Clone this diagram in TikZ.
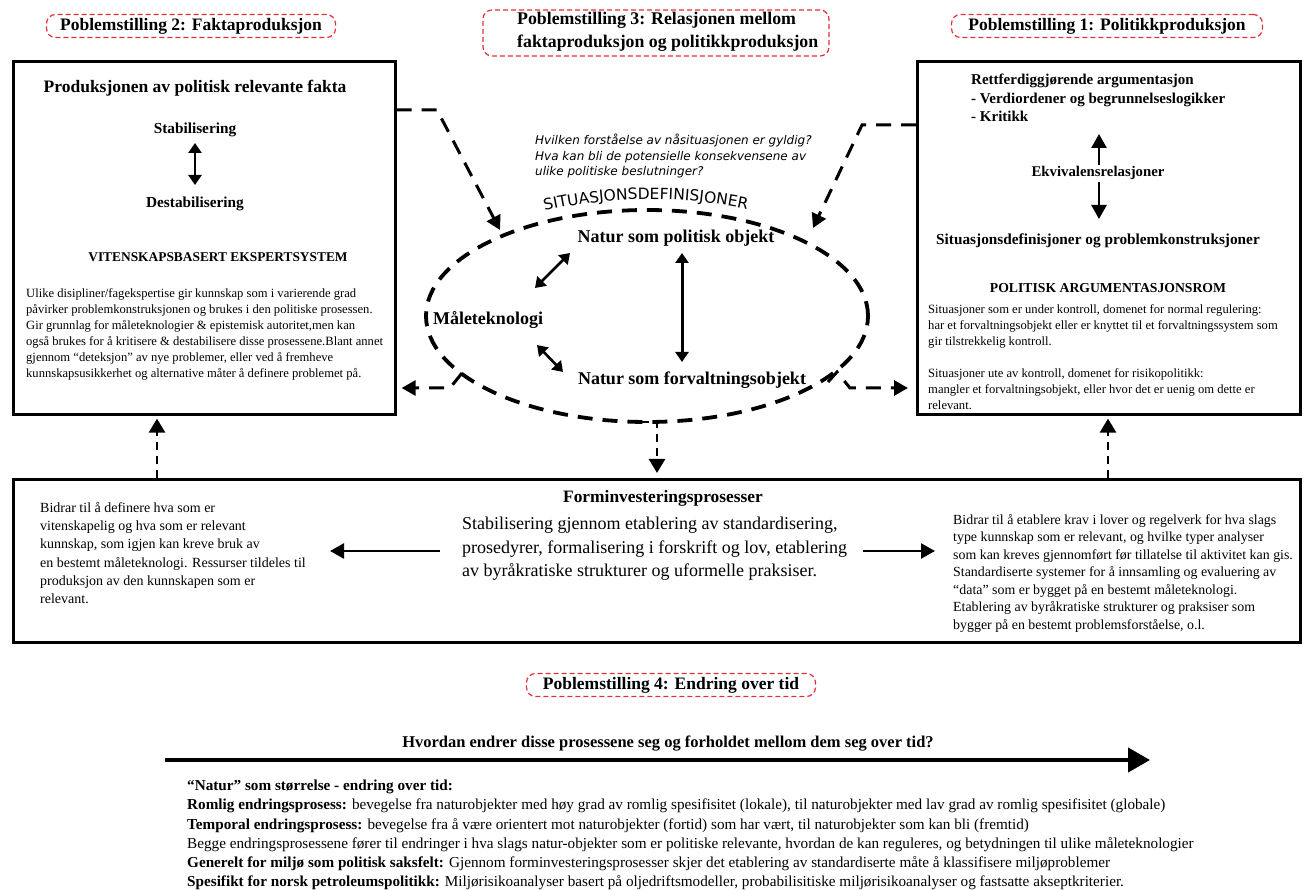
\documentclass[tikz,border=0pt]{standalone}
\usepackage{fontspec}
\setmainfont{Liberation Serif}
\newfontfamily\spfont{DejaVu Sans}
\usetikzlibrary{arrows.meta,calc,positioning,shapes.geometric,decorations.text}

\definecolor{rammerod}{RGB}{232,45,55}
\newcommand{\fsz}[2]{\fontsize{#1}{#2}\selectfont}

\begin{document}
\begin{tikzpicture}[x=1pt,y=-1pt,>=Triangle,
    tittel/.style={draw=rammerod,line width=1.2pt,dash pattern=on 5pt off 3pt,rounded corners=9pt,minimum height=23pt,inner sep=0pt},
    boks/.style={draw,line width=2.6pt,anchor=north west,inner sep=0pt},
    fet/.style={font=\fsz{#1}{#1}\bfseries,inner sep=1pt},
    avsnitt/.style={anchor=north west,align=left,inner sep=0pt},
    dpil/.style={line width=2.6pt,{Triangle[length=10pt,width=13pt]}-{Triangle[length=10pt,width=13pt]}},
    pil/.style={line width=2.6pt,-{Triangle[length=14pt,width=15pt]}},
    stiplet/.style={line width=3pt,dash pattern=on 15pt off 10pt,-{Triangle[length=14pt,width=15pt]}},
    kortstiplet/.style={line width=2.6pt,dash pattern=on 8pt off 6pt,-{Triangle[length=14pt,width=16pt]}}]
    \useasboundingbox (0,0) rectangle (1307,890);

    % 标题框
    \node[tittel,minimum width=289pt] (p2) at (191,26) {};
    \node[fet=17.5] (p2tekst) at (p2) {Poblemstilling 2: Faktaproduksjon};
    \node[tittel,minimum width=346pt,minimum height=46pt] (p3) at (656,33) {};
    \node[font=\fsz{17.8}{23}\bfseries,align=left,anchor=west,inner sep=0pt] (p3tekst) at (517,32) {Poblemstilling 3: Relasjonen mellom\\faktaproduksjon og politikkproduksjon};
    \node[tittel,minimum width=311pt] (p1) at (1107,26) {};
    \node[fet=17.5] (p1tekst) at (p1) {Poblemstilling 1: Politikkproduksjon};

    % 左框: 事实生产
    \node[boks,minimum width=382pt,minimum height=353pt] (fakta) at (12,60) {};
    \node[fet=17.5] (pfakta) at (195,88) {Produksjonen av politisk relevante fakta};
    \node[fet=15.3] (stab) at (195,130) {Stabilisering};
    \node[fet=15.3] (destab) at (195,204) {Destabilisering};
    \coordinate (s1) at (195,143);
    \coordinate (s2) at (195,185);
    \draw[dpil] (s1) -- (s2);
    \node[fet=13.4] (vitensk) at (218,257) {VITENSKAPSBASERT EKSPERTSYSTEM};
    \node[avsnitt,font=\fsz{12.6}{16}] (ulike) at (26,288) {Ulike disipliner/fagekspertise gir kunnskap som i varierende grad\\påvirker problemkonstruksjonen og brukes i den politiske prosessen.\\Gir grunnlag for måleteknologier \& epistemisk autoritet,men kan\\også brukes for å kritisere \& destabilisere disse prosessene.Blant annet\\gjennom “deteksjon” av nye problemer, eller ved å fremheve\\kunnskapsusikkerhet og  alternative måter å definere problemet på.};

    % 右框: 政策生产
    \node[boks,minimum width=383pt,minimum height=353pt] (politikk) at (916,60) {};
    \node[avsnitt,font=\fsz{15}{18.5}\bfseries] (argument) at (971,74) {Rettferdiggjørende argumentasjon\\- Verdiordener og begrunnelseslogikker\\- Kritikk};
    \node[fet=14.8] (ekv) at (1098,173) {Ekvivalensrelasjoner};
    \node[fet=15.3] (sitprob) at (1098,241) {Situasjonsdefinisjoner og problemkonstruksjoner};
    \coordinate (e1) at (1099,165);
    \coordinate (e2) at (1099,134);
    \coordinate (e3) at (1099,182);
    \coordinate (e4) at (1099,219);
    \draw[pil] (e1) -- (e2);
    \draw[pil] (e3) -- (e4);
    \node[fet=13.7] (polrom) at (1108,288) {POLITISK ARGUMENTASJONSROM};
    \node[avsnitt,font=\fsz{12.6}{16}] (situ) at (928,304) {Situasjoner som er under kontroll, domenet for normal regulering:\\har et forvaltningsobjekt eller er knyttet til et forvaltningssystem som\\gir tilstrekkelig kontroll.\\[16pt]Situasjoner ute av kontroll, domenet for risikopolitikk:\\mangler et forvaltningsobjekt, eller hvor det er uenig om dette er\\relevant.};

    % 中间椭圆: 情境定义
    \node[ellipse,draw,line width=3.8pt,dash pattern=on 15pt off 10pt,minimum width=442pt,minimum height=212pt,inner sep=0pt] (sitdef) at (647,316) {};
    \path[decorate,decoration={text along path,text align=center,text={|\spfont\fsz{15.5}{15.5}|SITUASJONSDEFINISJONER}}] (536,213) .. controls (610,195) and (685,195) .. (756,211);
    \node[avsnitt,font=\spfont\itshape\fsz{12}{15.5}] (sporsmal) at (535,134) {Hvilken forståelse av nåsituasjonen er gyldig?\\Hva kan bli de potensielle konsekvensene av\\ulike politiske beslutninger?};
    \node[fet=18] (npol) at (676,238) {Natur som politisk objekt};
    \node[fet=18] (maal) at (488,320) {Måleteknologi};
    \node[fet=18] (nforv) at (692,380) {Natur som forvaltningsobjekt};
    \coordinate (v1) at (682,253);
    \coordinate (v2) at (682,362);
    \coordinate (d1) at (535,288);
    \coordinate (d2) at (570,253);
    \coordinate (d3) at (537,345);
    \coordinate (d4) at (563,372);
    \draw[dpil,line width=3pt] (v1) -- (v2);
    \draw[dpil] (d1) -- (d2);
    \draw[dpil] (d3) -- (d4);

    % 虚线连接
    \coordinate (k1a) at (437,110);
    \coordinate (k1b) at (500,230);
    \draw[stiplet] (fakta.east |- k1a) -- (k1a) -- (k1b);
    \coordinate (k2a) at (862,125);
    \coordinate (k2b) at (813,228);
    \draw[stiplet] (politikk.west |- k2a) -- (k2a) -- (k2b);
    \coordinate (k3a) at (462,373);
    \coordinate (k3b) at (450,388);
    \draw[stiplet,shorten >=5pt] (k3a) -- (k3b) -- (fakta.east |- k3b);
    \coordinate (k4a) at (828,382);
    \coordinate (k4b) at (837,372);
    \coordinate (k4c) at (850,388);
    \draw[stiplet,shorten >=8pt] (k4a) -- (k4b) -- (k4c) -- (politikk.west |- k4c);
    \coordinate (k5a) at (641,422);
    \coordinate (k5b) at (657,422);
    \node[boks,minimum width=1287pt,minimum height=163pt] (prosess) at (12,478) {};
    \draw[kortstiplet,shorten >=5pt] (k5a) -- (k5b) -- (k5b |- prosess.north);
    \foreach \x/\n in {157/fakta,1108/politikk}
        \draw[kortstiplet,shorten >=3pt] (prosess.north -| \x,0) -- (\n.south -| \x,0);

    % 下框: 形式投资过程
    \node[fet=17.4] (formin) at (663,498) {Forminvesteringsprosesser};
    \node[avsnitt,font=\fsz{18}{23.5}] (stabtekst) at (462,517) {Stabilisering gjennom etablering av standardisering,\\prosedyrer, formalisering i forskrift og lov, etablering\\av byråkratiske strukturer og uformelle praksiser.};
    \node[avsnitt,font=\fsz{14}{18.3}] (bidrar1) at (40,502) {Bidrar til å definere hva som er\\vitenskapelig og hva som er relevant\\kunnskap, som igjen kan kreve bruk av\\en bestemt måleteknologi. Ressurser tildeles til\\produksjon av den kunnskapen som er\\relevant.};
    \node[avsnitt,font=\fsz{13.9}{17.5}] (bidrar2) at (953,514) {Bidrar til å etablere krav i lover og regelverk for hva slags\\type kunnskap som er relevant, og  hvilke typer analyser\\som kan kreves gjennomført før tillatelse til aktivitet kan gis.\\Standardiserte systemer for å innsamling og evaluering av\\“data” som er bygget på en bestemt måleteknologi.\\Etablering av byråkratiske strukturer og praksiser som\\bygger på en bestemt problemsforståelse, o.l.};
    \coordinate (a1) at (440,551);
    \coordinate (a2) at (330,551);
    \coordinate (a3) at (863,551);
    \coordinate (a4) at (935,551);
    \draw[pil] (a1) -- (a2);
    \draw[pil] (a3) -- (a4);

    % 问题4: 随时间变化
    \node[tittel,minimum width=289pt] (p4) at (671,685) {};
    \node[fet=17.5] (p4tekst) at (p4) {Poblemstilling 4: Endring over tid};
    \node[fet=16.5] (tidsporsmal) at (668,744) {Hvordan endrer disse prosessene seg og forholdet mellom dem seg over tid?};
    \coordinate (t1) at (165,760);
    \coordinate (t2) at (1150,760);
    \draw[line width=4pt,-{Triangle[length=22pt,width=24pt]}] (t1) -- (t2);
    \node[avsnitt,font=\fsz{15.2}{19.2}] (endring) at (187,780) {\textbf{“Natur” som størrelse - endring over tid:}\\\textbf{Romlig endringsprosess:} bevegelse fra naturobjekter med høy  grad av romlig spesifisitet (lokale), til naturobjekter med lav grad av romlig spesifisitet (globale)\\\textbf{Temporal endringsprosess:} bevegelse fra å være orientert mot naturobjekter (fortid) som har vært, til naturobjekter som kan bli (fremtid)\\Begge endringsprosessene fører til endringer i hva slags natur-objekter som er politiske relevante, hvordan de kan reguleres, og betydningen til ulike måleteknologier\\\textbf{Generelt for miljø som politisk saksfelt:} Gjennom forminvesteringsprosesser skjer det etablering av standardiserte måte å klassifisere miljøproblemer\\\textbf{Spesifikt for norsk petroleumspolitikk:} Miljørisikoanalyser basert på oljedriftsmodeller, probabilisitiske miljørisikoanalyser og fastsatte akseptkriterier.};
\end{tikzpicture}
\end{document}
